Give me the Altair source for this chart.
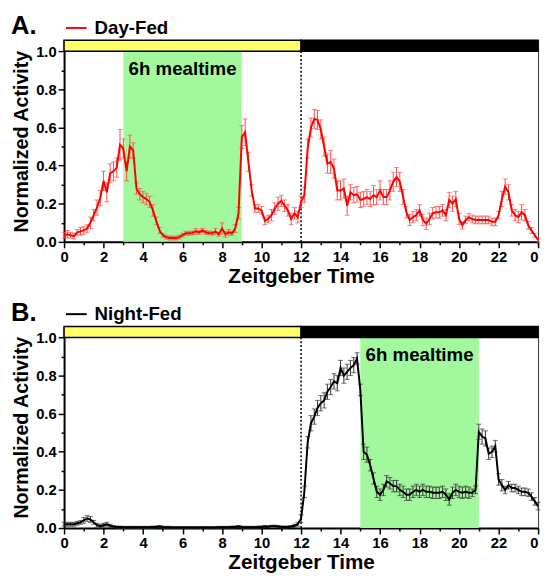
import altair as alt
import pandas as pd

# time grid: 10-minute bins, ZT0 .. ZT24
t = [i / 6 for i in range(145)]

day_fed = [
    0.035, 0.04, 0.035, 0.03, 0.05, 0.055,
    0.06, 0.07, 0.10, 0.14, 0.18, 0.23,
    0.32, 0.26, 0.36, 0.37, 0.39, 0.51,
    0.49, 0.37, 0.50, 0.48, 0.28, 0.25,
    0.235, 0.225, 0.21, 0.165, 0.11, 0.06,
    0.035, 0.025, 0.02, 0.02, 0.02, 0.025,
    0.035, 0.045, 0.045, 0.047, 0.055, 0.05,
    0.06, 0.05, 0.047, 0.045, 0.055, 0.04,
    0.07, 0.04, 0.05, 0.045, 0.07, 0.15,
    0.55, 0.575, 0.42, 0.27, 0.175, 0.175,
    0.165, 0.11, 0.12, 0.14, 0.175, 0.20,
    0.215, 0.19, 0.165, 0.12, 0.15, 0.13,
    0.21, 0.245, 0.49, 0.60, 0.645, 0.64,
    0.59, 0.50, 0.41, 0.42, 0.385, 0.27,
    0.27, 0.28, 0.19, 0.26, 0.245, 0.25,
    0.22, 0.225, 0.235, 0.225, 0.245, 0.235,
    0.27, 0.235, 0.235, 0.27, 0.315, 0.34,
    0.315, 0.235, 0.155, 0.115, 0.13, 0.14,
    0.165, 0.115, 0.095, 0.12, 0.15, 0.155,
    0.155, 0.165, 0.14, 0.22, 0.20, 0.225,
    0.12, 0.087, 0.115, 0.13, 0.12, 0.115,
    0.115, 0.115, 0.115, 0.115, 0.105, 0.105,
    0.14, 0.225, 0.29, 0.26, 0.165, 0.14,
    0.13, 0.155, 0.14, 0.087, 0.06, 0.035,
    0.01,
]
day_err = [
    0.015, 0.02, 0.015, 0.015, 0.015, 0.02,
    0.02, 0.02, 0.03, 0.03, 0.04, 0.04,
    0.05, 0.05, 0.05, 0.05, 0.05, 0.08,
    0.05, 0.05, 0.06, 0.04, 0.03, 0.03,
    0.03, 0.03, 0.03, 0.03, 0.02, 0.015,
    0.01, 0.01, 0.01, 0.01, 0.01, 0.01,
    0.01, 0.01, 0.01, 0.01, 0.015, 0.01,
    0.01, 0.01, 0.01, 0.01, 0.015, 0.01,
    0.03, 0.015, 0.015, 0.01, 0.02, 0.03,
    0.06, 0.07, 0.05, 0.03, 0.02, 0.02,
    0.02, 0.02, 0.02, 0.03, 0.03, 0.035,
    0.03, 0.03, 0.03, 0.03, 0.03, 0.03,
    0.03, 0.04, 0.05, 0.05, 0.05, 0.05,
    0.05, 0.05, 0.05, 0.06, 0.05, 0.05,
    0.05, 0.05, 0.05, 0.04, 0.04, 0.04,
    0.04, 0.04, 0.04, 0.04, 0.05, 0.04,
    0.05, 0.04, 0.04, 0.05, 0.05, 0.05,
    0.05, 0.04, 0.03, 0.03, 0.03, 0.03,
    0.03, 0.03, 0.03, 0.03, 0.03, 0.03,
    0.03, 0.03, 0.03, 0.04, 0.04, 0.04,
    0.03, 0.02, 0.02, 0.02, 0.02, 0.02,
    0.02, 0.02, 0.02, 0.02, 0.02, 0.02,
    0.02, 0.04, 0.04, 0.04, 0.03, 0.03,
    0.03, 0.04, 0.03, 0.02, 0.015, 0.01,
    0.01,
]

night_fed = [
    0.02, 0.02, 0.02, 0.02, 0.025, 0.03,
    0.04, 0.05, 0.045, 0.03, 0.015, 0.01,
    0.015, 0.02, 0.012, 0.008, 0.005, 0.005,
    0.004, 0.004, 0.004, 0.004, 0.004, 0.004,
    0.004, 0.004, 0.004, 0.005, 0.006, 0.008,
    0.005, 0.004, 0.004, 0.003, 0.003, 0.003,
    0.003, 0.003, 0.003, 0.003, 0.003, 0.003,
    0.003, 0.003, 0.003, 0.003, 0.003, 0.004,
    0.004, 0.004, 0.004, 0.005, 0.006, 0.008,
    0.005, 0.004, 0.004, 0.004, 0.004, 0.005,
    0.006, 0.008, 0.007, 0.01, 0.01, 0.008,
    0.006, 0.005, 0.006, 0.008, 0.012, 0.02,
    0.05, 0.19, 0.45, 0.55, 0.585, 0.63,
    0.655, 0.67, 0.715, 0.74, 0.77, 0.76,
    0.84, 0.80, 0.82, 0.84, 0.855, 0.89,
    0.725, 0.40, 0.385, 0.33, 0.26, 0.19,
    0.175, 0.20, 0.245, 0.235, 0.22, 0.22,
    0.20, 0.19, 0.175, 0.175, 0.19, 0.20,
    0.19, 0.20, 0.19, 0.19, 0.185, 0.185,
    0.185, 0.19, 0.175, 0.15, 0.185, 0.20,
    0.19, 0.185, 0.19, 0.185, 0.185, 0.20,
    0.505, 0.48, 0.47, 0.39, 0.40, 0.43,
    0.255, 0.225, 0.20, 0.225, 0.21, 0.21,
    0.20, 0.19, 0.19, 0.185, 0.165, 0.14,
    0.115,
]
night_err = [
    0.01, 0.01, 0.01, 0.01, 0.01, 0.01,
    0.015, 0.015, 0.015, 0.01, 0.01, 0.01,
    0.01, 0.01, 0.008, 0.005, 0.005, 0.005,
    0.005, 0.005, 0.005, 0.005, 0.005, 0.005,
    0.005, 0.005, 0.005, 0.005, 0.005, 0.005,
    0.005, 0.005, 0.005, 0.005, 0.005, 0.005,
    0.005, 0.005, 0.005, 0.005, 0.005, 0.005,
    0.005, 0.005, 0.005, 0.005, 0.005, 0.005,
    0.005, 0.005, 0.005, 0.005, 0.005, 0.005,
    0.005, 0.005, 0.005, 0.005, 0.005, 0.005,
    0.005, 0.005, 0.005, 0.005, 0.005, 0.005,
    0.005, 0.005, 0.005, 0.005, 0.008, 0.01,
    0.02, 0.03, 0.03, 0.04, 0.04, 0.04,
    0.04, 0.04, 0.04, 0.04, 0.04, 0.04,
    0.04, 0.04, 0.04, 0.04, 0.04, 0.03,
    0.03, 0.04, 0.04, 0.03, 0.03, 0.03,
    0.03, 0.03, 0.03, 0.03, 0.03, 0.03,
    0.03, 0.03, 0.03, 0.03, 0.03, 0.03,
    0.03, 0.03, 0.03, 0.03, 0.03, 0.03,
    0.03, 0.03, 0.03, 0.03, 0.03, 0.03,
    0.03, 0.03, 0.03, 0.03, 0.02, 0.02,
    0.04, 0.04, 0.04, 0.03, 0.03, 0.03,
    0.03, 0.03, 0.02, 0.02, 0.02, 0.02,
    0.02, 0.02, 0.02, 0.02, 0.02, 0.02,
    0.02,
]

x_ticks = list(range(0, 25))
y_ticks = [0.0, 0.1, 0.2, 0.3, 0.4, 0.5, 0.6, 0.7, 0.8, 0.9, 1.0]
TOP = 1.058
FONT = "Liberation Sans"
GREEN = "#a2f99d"
YELLOW = "#ffff66"
PANEL_W = 482
PANEL_H = 205

x_axis = alt.Axis(
    values=x_ticks,
    labelExpr="datum.value % 2 == 0 ? (datum.value == 24 ? '0' : datum.label) : ''",
    tickSize={"condition": {"test": "datum.value % 2 == 1", "value": 3}, "value": 6},
    labelAlign={"condition": {"test": "datum.value == 24", "value": "right"}, "value": "center"},
    labelOverlap=False, labelFlush=False,
    labelFont=FONT, labelFontSize=15, labelFontWeight="bold", labelColor="black",
    labelPadding=2,
    titleFont=FONT, titleFontSize=21, titleFontWeight="bold", titleColor="black",
    titlePadding=1,
    domainColor="black", domainWidth=2, tickColor="black", tickWidth=1.5,
    grid=False,
)
y_axis = alt.Axis(
    values=y_ticks,
    labelExpr="round(datum.value * 10) % 2 == 0 ? format(datum.value, '.1f') : ''",
    tickSize={"condition": {"test": "round(datum.value * 10) % 2 == 1", "value": 3}, "value": 6},
    labelOverlap=False, labelFlush=False,
    labelFont=FONT, labelFontSize=15, labelFontWeight="bold", labelColor="black",
    labelPadding=2,
    titleFont=FONT, titleFontSize=20, titleFontWeight="bold", titleColor="black",
    titlePadding=4,
    domainColor="black", domainWidth=2, tickColor="black", tickWidth=1.5,
    grid=False,
)
xsc = alt.Scale(domain=[0, 24], nice=False)
ysc = alt.Scale(domain=[0, TOP], nice=False, zero=True)
XT = "Zeitgeber Time"
YT = "Normalized Activity"


def X(f):
    return alt.X(f, type="quantitative", scale=xsc, axis=x_axis, title=XT)


def Y(f):
    return alt.Y(f, type="quantitative", scale=ysc, axis=y_axis, title=YT)


def panel(letter, name, vals, errs, color, errcolor, meal):
    df = pd.DataFrame({
        "t": t, "v": vals,
        "lo": [a - b for a, b in zip(vals, errs)],
        "hi": [a + b for a, b in zip(vals, errs)],
        "series": name,
    })
    meal_df = pd.DataFrame({"s": [meal[0]], "e": [meal[1]], "y0": [0.0], "y1": [1.0]})
    bar_df = pd.DataFrame({"s": [0, 12], "e": [12, 24], "y0": [1.0, 1.0],
                           "y1": [TOP, TOP], "fill": [YELLOW, "black"]})
    rule_df = pd.DataFrame({"x": [12], "y0": [0.0], "y1": [1.0]})
    txt_df = pd.DataFrame({"x": [(meal[0] + meal[1]) / 2], "y": [0.905],
                           "label": ["6h mealtime"]})
    letter_df = pd.DataFrame({"label": [letter]})

    meal_rect = alt.Chart(meal_df).mark_rect(color=GREEN).encode(
        x=X("s"), x2="e", y=Y("y0"), y2="y1")
    bars = alt.Chart(bar_df).mark_rect(stroke="black", strokeWidth=1.5).encode(
        x=X("s"), x2="e", y=Y("y0"), y2="y1",
        fill=alt.Fill("fill:N", scale=None))
    dotted = alt.Chart(rule_df).mark_rule(color="black", strokeDash=[2, 2],
                                          strokeWidth=1.5).encode(
        x=X("x"), y=Y("y0"), y2="y1")
    label = alt.Chart(txt_df).mark_text(font=FONT, fontSize=19, fontWeight="bold",
                                        color="black", baseline="middle").encode(
        x=X("x"), y=Y("y"), text="label:N")
    head = alt.Chart(letter_df).mark_text(font=FONT, fontSize=26, fontWeight="bold",
                                          color="black", align="left",
                                          baseline="alphabetic").encode(
        x=alt.value(-54), y=alt.value(-6), text="label:N")
    err = alt.Chart(df).mark_rule(color=errcolor, strokeWidth=1).encode(
        x=X("t"), y=Y("lo"), y2="hi")
    cap_lo = alt.Chart(df).mark_tick(color=errcolor, orient="horizontal", size=5,
                                     thickness=1).encode(x=X("t"), y=Y("lo"))
    cap_hi = alt.Chart(df).mark_tick(color=errcolor, orient="horizontal", size=5,
                                     thickness=1).encode(x=X("t"), y=Y("hi"))
    line = alt.Chart(df).mark_line(strokeWidth=2).encode(
        x=X("t"), y=Y("v"),
        color=alt.Color("series:N", scale=alt.Scale(domain=[name], range=[color]),
                        legend=alt.Legend(
                            title=None, orient="none", legendX=1, legendY=-24,
                            symbolType="stroke", symbolSize=441, symbolStrokeWidth=2,
                            labelFont=FONT, labelFontSize=19, labelFontWeight="bold",
                            labelColor="black", labelOffset=7, padding=0)))
    return alt.layer(meal_rect, dotted, label, err, cap_lo, cap_hi, line, bars,
                     head).properties(width=PANEL_W, height=PANEL_H)


a = panel("A.", "Day-Fed", day_fed, day_err, "#ff0000", "#ff4a4a", (3, 9))
b = panel("B.", "Night-Fed", night_fed, night_err, "black", "#333333", (15, 21))

chart = alt.vconcat(a, b, spacing=12).resolve_scale(
    color="independent").resolve_legend(color="independent").configure_view(
    stroke="#333333", strokeWidth=1).properties(
    padding={"left": 2, "top": 0, "right": 0, "bottom": 0})

chart.save("out.html", embed_options={"renderer": "svg", "actions": False})
